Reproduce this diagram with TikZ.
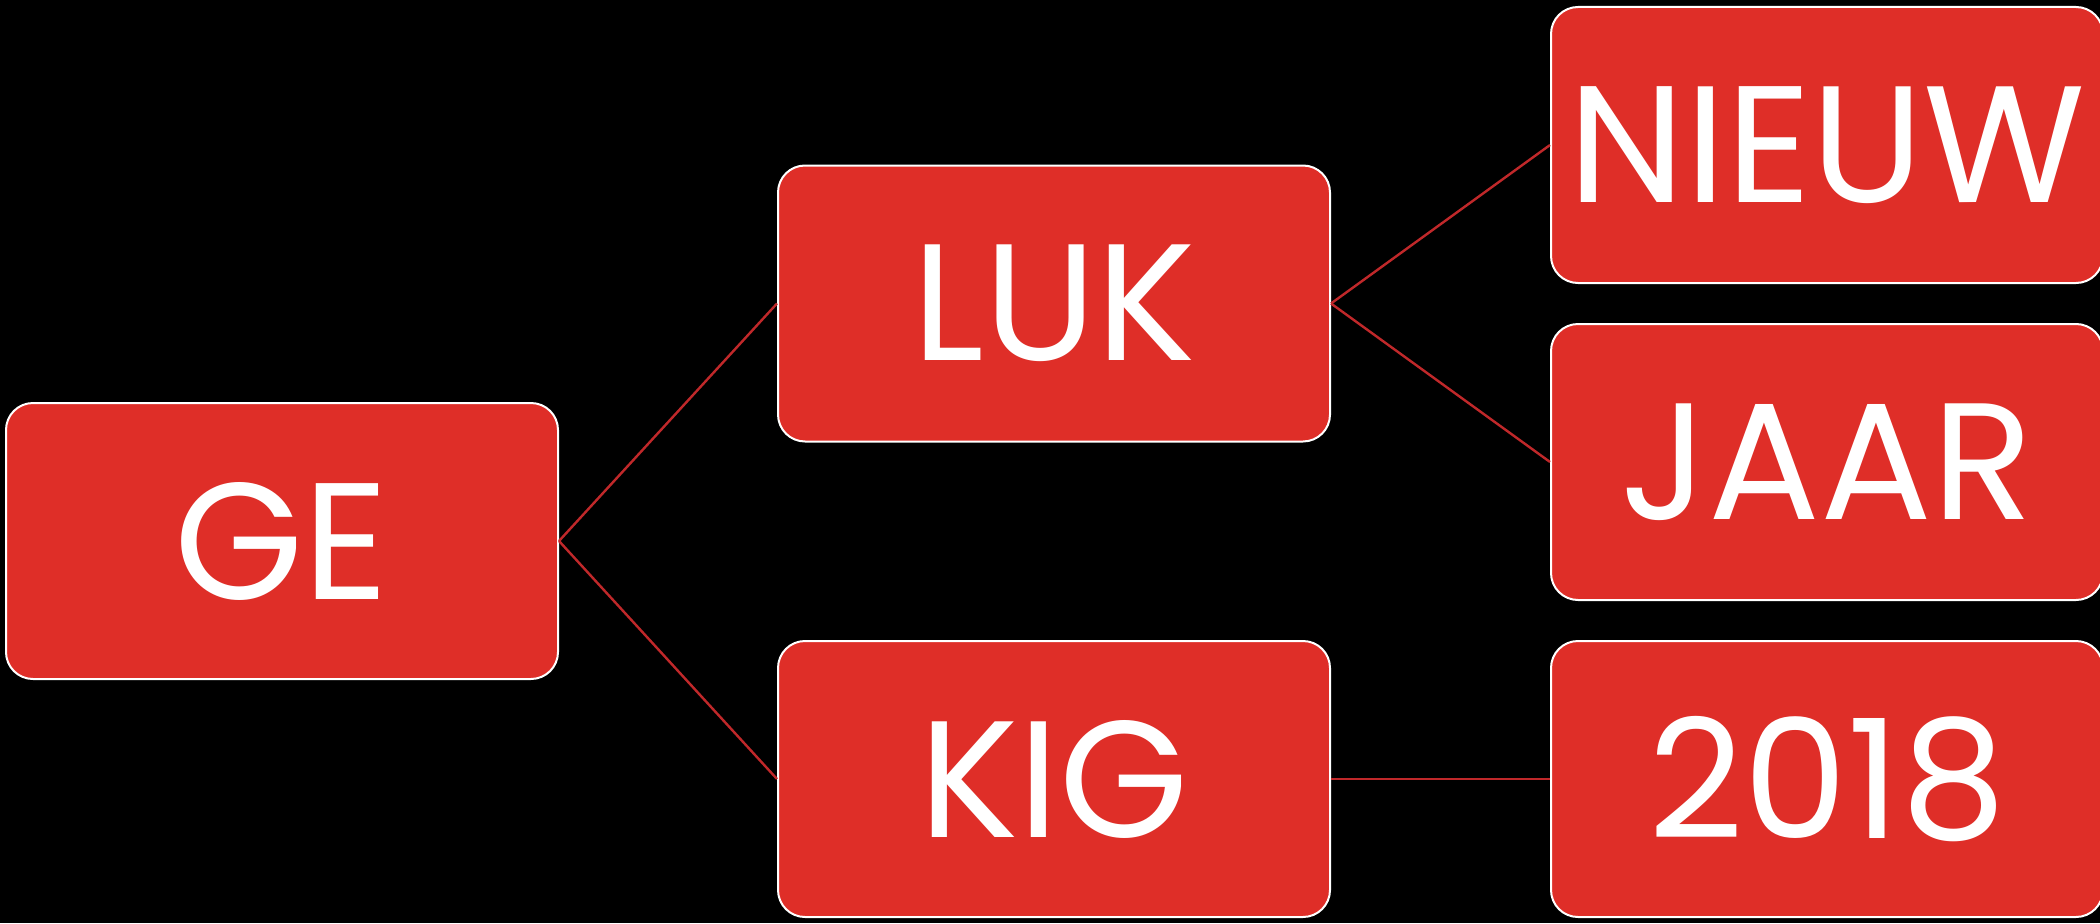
\documentclass[tikz,border=0pt]{standalone}
\usepackage{fontspec}
\setmainfont{Poppins}
\definecolor{boxred}{HTML}{DF2E28}
\definecolor{linered}{HTML}{C0282A}
\begin{document}
\begin{tikzpicture}[x=1pt,y=-1pt,
  card/.style={draw=white,line width=2pt,fill=boxred,rounded corners=27pt,
    minimum width=552pt,minimum height=276pt,inner sep=0pt,text=white,
    font=\fontsize{166}{166}\selectfont},
  link/.style={draw=linered,line width=2.4pt}]
\fill[black] (0,0) rectangle (2100,923);
\useasboundingbox (0,0) rectangle (2100,923);
\node[card] (ge) at (282,541) {GE};
\node[card] (luk) at (1054,303.5) {LUK};
\node[card] (kig) at (1054,779) {KIG};
\node[card] (nieuw) at (1827,145) {NIEUW};
\node[card] (jaar) at (1827,462) {JAAR};
\node[card] (y2018) at (1827,779) {2018};
\draw[link] (ge.east) -- (luk.west);
\draw[link] (ge.east) -- (kig.west);
\draw[link] (luk.east) -- (nieuw.west);
\draw[link] (luk.east) -- (jaar.west);
\draw[link] (kig.east) -- (y2018.west);
\end{tikzpicture}
\end{document}
